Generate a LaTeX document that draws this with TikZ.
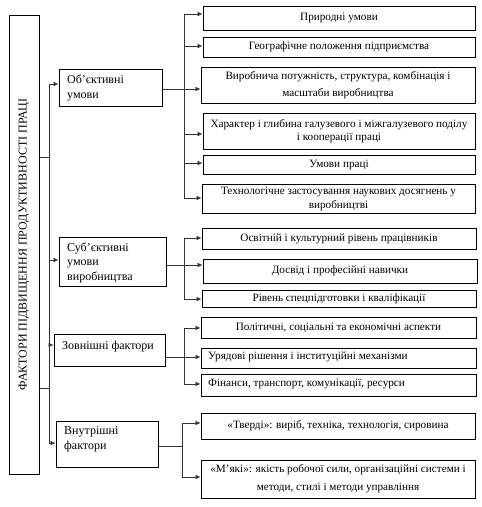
\documentclass[tikz,border=0pt]{standalone}
\usepackage{fontspec}
\setmainfont{Liberation Serif}
\usetikzlibrary{arrows.meta}
\begin{document}
\begin{tikzpicture}[x=1pt,y=-1pt,
  box/.style={draw, line width=0.8pt, inner sep=0pt},
  rbox/.style={box, minimum width=274pt, font=\fontsize{11.2}{13}\selectfont, align=center},
  lbox/.style={box, font=\fontsize{12}{14.5}\selectfont},
  con/.style={line width=0.7pt, draw=black!80},
  arr/.style={con, -{Latex[length=5pt,width=4.5pt]}}]
\useasboundingbox (0,0) rectangle (482,507);
% main box
\node[box, minimum width=30pt, minimum height=459pt,
  label={[rotate=90, font=\fontsize{12}{14}\selectfont]center:ФАКТОРИ ПІДВИЩЕННЯ ПРОДУКТИВНОСТІ ПРАЦІ}] (main) at (24,244.5) {};
% level 2
\node[lbox, minimum width=103pt, minimum height=37pt] (obj) at (110.5,87.5) {};
\node[font=\fontsize{12}{14.5}\selectfont, align=left, anchor=west, inner sep=0pt] at (67,88) {Об’єктивні\\умови};
\node[lbox, minimum width=107pt, minimum height=49pt] (subj) at (112.5,261.5) {};
\node[font=\fontsize{12}{14.5}\selectfont, align=left, anchor=west, inner sep=0pt] at (67,262.5) {Суб’єктивні\\умови\\виробництва};
\node[lbox, minimum width=111pt, minimum height=32pt] (zovn) at (109.5,350) {};
\node[font=\fontsize{12}{14.5}\selectfont, align=left, anchor=west, inner sep=0pt] at (62,347) {Зовнішні фактори};
\node[lbox, minimum width=102pt, minimum height=46pt] (vnut) at (107,444) {};
\node[font=\fontsize{12}{15}\selectfont, align=left, anchor=west, inner sep=0pt] at (64,439.5) {Внутрішні\\фактори};
% group 1
\node[rbox, minimum width=272pt, minimum height=24pt] (r1) at (339,18) {Природні умови};
\node[rbox, minimum width=272pt, minimum height=20pt] (r2) at (339,47) {Географічне положення підприємства};
\node[rbox, minimum height=36pt, font=\fontsize{11.2}{17}\selectfont] (r3) at (338,85) {Виробнича потужність, структура, комбінація і\\масштаби виробництва};
\node[rbox, minimum width=272pt, minimum height=36pt, font=\fontsize{11.2}{13.5}\selectfont] (r4) at (339,131) {Характер і глибина галузевого і міжгалузевого поділу\\і кооперації праці};
\node[rbox, minimum width=272pt, minimum height=19pt] (r5) at (339,164.5) {Умови праці};
\node[rbox, minimum width=273pt, minimum height=29pt, font=\fontsize{11.2}{14}\selectfont] (r6) at (338.5,198.5) {Технологічне застосування наукових досягнень у\\виробництві};
% group 2
\node[rbox, minimum height=21pt] (s1) at (339,238.5) {Освітній і культурний рівень працівників};
\node[rbox, minimum height=24pt] (s2) at (340,271) {Досвід і професійні навички};
\node[rbox, minimum height=17pt] (s3) at (339,298.5) {Рівень спецпідготовки і кваліфікації};
% group 3
\node[rbox, minimum width=275pt, minimum height=21pt] (z1) at (338.5,327.5) {Політичні, соціальні та економічні аспекти};
\node[rbox, minimum width=275pt, minimum height=20pt] (z2) at (338.5,358) {};
\node[font=\fontsize{11.2}{13}\selectfont, anchor=west, inner sep=0pt] at (208,357) {Урядові рішення і інституційні механізми};
\node[rbox, minimum width=275pt, minimum height=22pt] (z3) at (338.5,385) {};
\node[font=\fontsize{11.2}{13}\selectfont, anchor=west, inner sep=0pt] at (208,384) {Фінанси, транспорт, комунікації, ресурси};
% group 4
\node[rbox, minimum height=26pt] (v1) at (338,426) {«Тверді»: виріб, техніка, технологія, сировина};
\node[rbox, minimum height=38pt, font=\fontsize{11.2}{18}\selectfont] (v2) at (338,479) {«М’які»: якість робочої сили, організаційні системи і\\методи, стилі і методи управління};
% main trunk
\coordinate (ta) at (49,84);
\coordinate (tb) at (49,443);
\draw[con] (ta) -- (tb);
\foreach \y in {157,388} \draw[con] (main.east |- 49,\y) -- (49,\y);
\draw[arr] (ta) -- (ta -| obj.west);
\draw[arr] (49,260) -- (subj.west |- 49,260);
\draw[arr] (49,345) -- (zovn.west |- 49,345);
\draw[arr] (tb) -- (tb -| vnut.west);
% group 1 trunk
\draw[con] (184,14) -- (184,198);
\foreach \n/\y in {r1/14,r2/46,r4/134,r5/163,r6/198} \draw[arr] (184,\y) -- (\n.west |- 184,\y);
\draw[arr] (obj.east |- 0,89) -- (r3.west |- 0,89);
% group 2 trunk
\draw[con] (184,238) -- (184,299);
\foreach \n/\y in {s1/238,s3/299} \draw[arr] (184,\y) -- (\n.west |- 184,\y);
\draw[arr] (subj.east |- 0,265) -- (s2.west |- 0,265);
% group 3 trunk
\draw[con] (184,328) -- (184,384);
\foreach \n/\y in {z1/328,z3/384} \draw[arr] (184,\y) -- (\n.west |- 184,\y);
\draw[arr] (zovn.east |- 0,357) -- (z2.west |- 0,357);
% group 4 trunk
\draw[con] (182,423) -- (182,477);
\foreach \n/\y in {v1/423,v2/477} \draw[arr] (182,\y) -- (\n.west |- 182,\y);
\draw[con] (vnut.east |- 0,446) -- (182,446);
\end{tikzpicture}
\end{document}
